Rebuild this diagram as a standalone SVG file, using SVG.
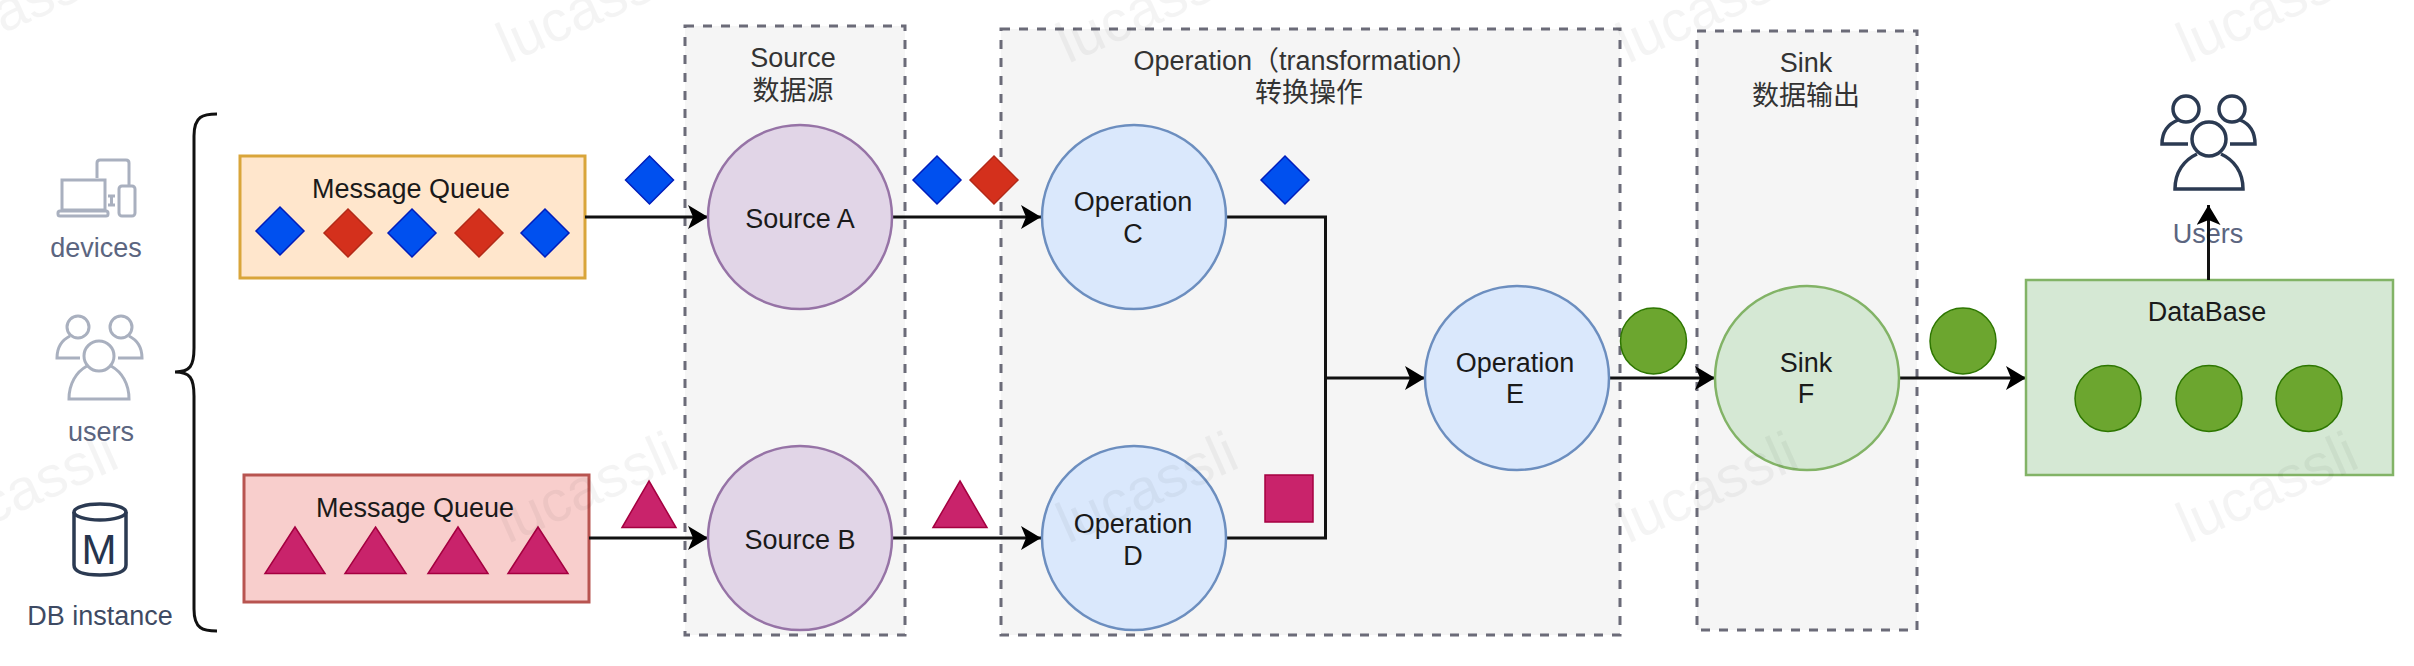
<svg xmlns="http://www.w3.org/2000/svg" width="2414" height="666" viewBox="0 0 2414 666">
<style>
text{font-family:"Liberation Sans","Noto Sans CJK SC",Arial,sans-serif;font-size:27px;text-anchor:middle;fill:#1a1a1a}
.wm{font-size:58px;fill:#000;fill-opacity:.045;text-anchor:start}
.t{fill:#333}
.g{fill:#5b6580}
.box{fill:#f5f5f5;stroke:#6b6b78;stroke-width:3;stroke-dasharray:9 9}
.pur{fill:#e1d5e7;stroke:#9673a6;stroke-width:2.5}
.blu{fill:#dae8fc;stroke:#6c8ebf;stroke-width:2.5}
.grn{fill:#d5e8d4;stroke:#82b366;stroke-width:2.5}
.db{fill:#0050ef;stroke:#001dbc;stroke-width:1.5}
.dr{fill:#d4301c;stroke:#b32a18;stroke-width:1.5}
.tr{fill:#c9236b;stroke:#a50040;stroke-width:1.5}
.gc{fill:#6ca62f;stroke:#2d7600;stroke-width:1.5}
.c{fill:none;stroke:#111;stroke-width:3}
.ic{fill:none;stroke:#a9b0bf;stroke-width:3}
.id{fill:none;stroke:#2b3a52;stroke-width:3.5}
</style>
<defs>
<marker id="ah" markerUnits="userSpaceOnUse" markerWidth="22" markerHeight="26" refX="20" refY="12" orient="auto"><path d="M0,0L20,12L0,24L5,12Z" fill="#000"/></marker>
</defs>
<rect width="2414" height="666" fill="#fff"/>
<g id="source-group"><rect class="box" x="685" y="26" width="220" height="609"/><text class="t" x="793" y="67">Source</text><text class="t" x="793" y="100">数据源</text></g>
<g id="operation-group"><rect class="box" x="1001" y="29" width="619" height="606"/><text class="t" x="1306" y="70">Operation（transformation）</text><text class="t" x="1309" y="102">转换操作</text></g>
<g id="sink-group"><rect class="box" x="1697" y="31" width="220" height="599"/><text class="t" x="1806" y="72">Sink</text><text class="t" x="1806" y="105">数据输出</text></g>
<g id="brace"><path class="c" fill="none" d="M217,114C203,114 194,116 194,136L194,348C194,366 190,372 175,372C190,372 194,378 194,396L194,609C194,629 203,631 217,631"/></g>
<g id="devices">
<path class="ic" d="M97,178V163Q97,160 100,160H126Q129,160 129,163V185"/>
<rect class="ic" x="62" y="180" width="43" height="30"/>
<rect class="ic" x="58" y="211" width="50" height="5" rx="2"/>
<rect class="ic" x="119" y="186" width="16" height="30" rx="3"/>
<path class="ic" d="M108,196H115M108,205H115M111.500,197V204"/>
<text class="g" x="96" y="257">devices</text>
</g>
<g id="users-in">
<circle class="ic" cx="78" cy="327" r="11"/><circle class="ic" cx="121" cy="327" r="11"/>
<path class="ic" d="M70,336C62,340 57,348 57,358H80M129,336C137,340 142,348 142,358H118"/>
<circle class="ic" cx="99" cy="356" r="15"/>
<path class="ic" d="M87,366C76,372 69,384 69,399H129C129,384 122,372 111,366"/>
<text class="g" x="101" y="441">users</text>
</g>
<g id="db-instance">
<ellipse class="id" cx="100" cy="512" rx="26" ry="8"/>
<path class="id" d="M74,512V565Q74,575 100,575Q126,575 126,565V512"/>
<text x="99" y="564" style="font-size:42px;fill:#26344d">M</text>
<text x="100" y="625" style="fill:#3e4a63">DB instance</text>
</g>
<g id="mq1"><rect x="240" y="156" width="345" height="122" fill="#ffe6cc" stroke="#d9a53a" stroke-width="3"/><text x="411" y="198">Message Queue</text>
<path class="db" d="M280,207L304,231L280,255L256,231Z"/><path class="dr" d="M348,209L372,233L348,257L324,233Z"/><path class="db" d="M412,209L436,233L412,257L388,233Z"/><path class="dr" d="M479,209L503,233L479,257L455,233Z"/><path class="db" d="M545,209L569,233L545,257L521,233Z"/></g>
<g id="mq2"><rect x="244" y="475" width="345" height="127" fill="#f8cecc" stroke="#b85450" stroke-width="3"/><text x="415" y="517">Message Queue</text>
<path class="tr" d="M295,527L325,573.500H265Z"/><path class="tr" d="M375.500,527L406,573.500H345Z"/><path class="tr" d="M458,527L488,573.500H428Z"/><path class="tr" d="M538,527L568,573.500H508Z"/></g>
<g id="connectors">
<path class="c" marker-end="url(#ah)" d="M585,217H708"/>
<path class="c" marker-end="url(#ah)" d="M589,538H708"/>
<path class="c" marker-end="url(#ah)" d="M891,217H1041"/>
<path class="c" marker-end="url(#ah)" d="M891,538H1041"/>
<path class="c" d="M1226,217H1325.500V538H1226"/>
<path class="c" marker-end="url(#ah)" d="M1325.500,378H1425"/>
<path class="c" marker-end="url(#ah)" d="M1609,378H1715"/>
<path class="c" marker-end="url(#ah)" d="M1900,378H2026"/>
</g>
<g id="source-a"><circle class="pur" cx="800" cy="217" r="92"/><text x="800" y="228">Source A</text></g>
<g id="source-b"><circle class="pur" cx="800" cy="538" r="92"/><text x="800" y="549">Source B</text></g>
<g id="op-c"><circle class="blu" cx="1134" cy="217" r="92"/><text x="1133" y="211">Operation</text><text x="1133" y="243">C</text></g>
<g id="op-d"><circle class="blu" cx="1134" cy="538" r="92"/><text x="1133" y="533">Operation</text><text x="1133" y="565">D</text></g>
<g id="op-e"><circle class="blu" cx="1517" cy="378" r="92"/><text x="1515" y="372">Operation</text><text x="1515" y="403">E</text></g>
<g id="sink-f"><circle class="grn" cx="1807" cy="378" r="92"/><text x="1806" y="372">Sink</text><text x="1806" y="403">F</text></g>
<g id="database"><rect class="grn" x="2026" y="280" width="367" height="195"/><text x="2207" y="321">DataBase</text>
<circle class="gc" cx="2108" cy="398.500" r="33"/><circle class="gc" cx="2209" cy="398.500" r="33"/><circle class="gc" cx="2309" cy="398.500" r="33"/></g>
<g id="tokens">
<path class="db" d="M649.500,156L673.500,180L649.500,204L625.500,180Z"/>
<path class="db" d="M937,156L961,180L937,204L913,180Z"/>
<path class="dr" d="M994,156L1018,180L994,204L970,180Z"/>
<path class="db" d="M1285,156L1309,180L1285,204L1261,180Z"/>
<path class="tr" d="M649,481L676,527.500H622Z"/>
<path class="tr" d="M960,481L987,527.500H933Z"/>
<rect class="tr" x="1265" y="475" width="48" height="47"/>
<circle class="gc" cx="1653.500" cy="341" r="33"/>
<circle class="gc" cx="1963" cy="341" r="33"/>
</g>
<g id="users-out">
<circle class="id" cx="2186" cy="109" r="13"/><circle class="id" cx="2232" cy="109" r="13"/>
<path class="id" d="M2178,120C2168,124 2162,132 2162,144H2188M2240,120C2250,124 2255,132 2255,144H2230"/>
<circle class="id" cx="2209" cy="139" r="17"/>
<path class="id" d="M2197,154C2184,160 2175,172 2175,189H2243C2243,172 2234,160 2221,154"/>
<text class="g" x="2208" y="243">Users</text>
</g>
<g id="connector-up"><path class="c" stroke-width="2" marker-end="url(#ah)" d="M2208.500,280V205"/></g>
<g id="watermarks">
<text class="wm" transform="translate(-65,64) rotate(-24)">lucassli</text>
<text class="wm" transform="translate(508,64) rotate(-24)">lucassli</text>
<text class="wm" transform="translate(1068,64) rotate(-24)">lucassli</text>
<text class="wm" transform="translate(1628,64) rotate(-24)">lucassli</text>
<text class="wm" transform="translate(2188,64) rotate(-24)">lucassli</text>
<text class="wm" transform="translate(-52,544) rotate(-24)">lucassli</text>
<text class="wm" transform="translate(508,544) rotate(-24)">lucassli</text>
<text class="wm" transform="translate(1068,544) rotate(-24)">lucassli</text>
<text class="wm" transform="translate(1628,544) rotate(-24)">lucassli</text>
<text class="wm" transform="translate(2188,544) rotate(-24)">lucassli</text>
</g>
</svg>
